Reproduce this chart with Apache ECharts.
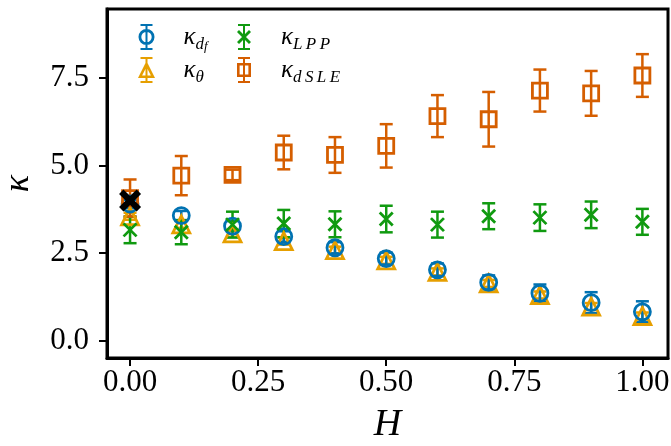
<!DOCTYPE html>
<html>
<head>
<meta charset="utf-8">
<script src="https://cdn.jsdelivr.net/npm/echarts@6/dist/echarts.min.js"></script>
<style>
    html, body { margin: 0; padding: 0; background: #fff; }
    #chart { width: 671px; height: 446px; }
</style>
</head>
<body>
<div id="chart"></div>
<script>
    // H values (x) and the four kappa estimates with their error bars
    var H = [0, 0.1, 0.2, 0.3, 0.4, 0.5, 0.6, 0.7, 0.8, 0.9, 1.0];
    var kDf = [3.90, 3.57, 3.27, 2.97, 2.65, 2.34, 2.02, 1.66, 1.35, 1.08, 0.82];
    var kDfErr = [0.12, 0.13, 0.14, 0.15, 0.16, 0.17, 0.18, 0.20, 0.25, 0.30, 0.30];
    var kTheta = [3.55, 3.32, 3.06, 2.84, 2.58, 2.29, 1.96, 1.63, 1.30, 0.97, 0.70];
    var kThetaErr = [0.10, 0.10, 0.10, 0.10, 0.10, 0.10, 0.10, 0.10, 0.10, 0.10, 0.10];
    var kLpp = [3.16, 3.09, 3.31, 3.34, 3.32, 3.47, 3.31, 3.55, 3.51, 3.59, 3.39];
    var kLppErr = [0.38, 0.34, 0.37, 0.39, 0.37, 0.38, 0.37, 0.37, 0.38, 0.38, 0.37];
    var kDsle = [4.07, 4.71, 4.73, 5.37, 5.30, 5.56, 6.41, 6.32, 7.14, 7.06, 7.57];
    var kDsleErr = [0.53, 0.56, 0.15, 0.48, 0.51, 0.62, 0.60, 0.78, 0.60, 0.64, 0.61];
    var crossPoint = [[0, 4.0]];

    var xTicks = [0, 0.25, 0.5, 0.75, 1.0];
    var yTicks = [0, 2.5, 5.0, 7.5];

    var BLUE = '#0072b2', ORANGE = '#e69f00', GREEN = '#109a10', RED = '#d55e00';
    var SERIF = '"Liberation Serif", "DejaVu Serif", serif';

    function points(vals) {
        return H.map(function (h, i) { return [h, vals[i]]; });
    }
    function bars(vals, errs) {
        return H.map(function (h, i) { return [h, vals[i], vals[i] - errs[i], vals[i] + errs[i]]; });
    }

    // vertical error bar with caps
    function errorItem(color) {
        return function (params, api) {
            var x = api.value(0);
            var lo = api.coord([x, api.value(2)]);
            var hi = api.coord([x, api.value(3)]);
            var cap = 6.5;
            var st = { stroke: color, lineWidth: 2.5, fill: null };
            return {
                type: 'group',
                children: [
                    { type: 'line', shape: { x1: lo[0], y1: lo[1], x2: hi[0], y2: hi[1] }, style: st },
                    { type: 'line', shape: { x1: lo[0] - cap, y1: lo[1], x2: lo[0] + cap, y2: lo[1] }, style: st },
                    { type: 'line', shape: { x1: hi[0] - cap, y1: hi[1], x2: hi[0] + cap, y2: hi[1] }, style: st }
                ]
            };
        };
    }

    function errSeries(name, vals, errs, color) {
        return {
            name: name + '_err',
            type: 'custom',
            renderItem: errorItem(color),
            encode: { x: 0, y: [2, 3] },
            data: bars(vals, errs),
            silent: true
        };
    }

    function markSeries(name, vals, symbol, size, color) {
        return {
            name: name,
            type: 'scatter',
            symbol: symbol,
            symbolSize: size,
            itemStyle: { color: 'rgba(0,0,0,0)', borderColor: color, borderWidth: 2.8, opacity: 1 },
            data: points(vals)
        };
    }

    // legend icons: marker + error bar, filled outlines
    var barPath = 'M9,1 L11,1 L11,25 L9,25 Z M4,0 L16,0 L16,2 L4,2 Z M4,24 L16,24 L16,26 L4,26 Z ';
    var iconCircle = 'path://' + barPath + 'M18,13 A8,8 0 1,1 2,13 A8,8 0 1,1 18,13 Z M15.2,13 A5.2,5.2 0 1,0 4.8,13 A5.2,5.2 0 1,0 15.2,13 Z';
    var iconTri = 'path://' + barPath + 'M10,4 L18.5,21 L1.5,21 Z M10,10 L5.6,18.6 L14.4,18.6 Z';
    var iconSquare = 'path://' + barPath + 'M3,6 L17,6 L17,20 L3,20 Z M5.6,8.6 L5.6,17.4 L14.4,17.4 L14.4,8.6 Z';
    var iconX = 'path://' + barPath + 'M3,8 L5,6 L17,18 L15,20 Z M15,6 L17,8 L5,20 L3,18 Z';

    var labels = {
        df: '{k|κ}{s|d}{t|f}',
        theta: '{k|κ}{s|θ}',
        LPP: '{k|κ}{s|L\u2009P\u2009P}',
        dSLE: '{k|κ}{s|d\u2009S\u2009L\u2009E}'
    };
    var rich = {
        k: { fontFamily: SERIF, fontStyle: 'italic', fontSize: 25, lineHeight: 32, verticalAlign: 'middle', padding: [0, 0, 0, 22], color: '#000' },
        s: { fontFamily: SERIF, fontStyle: 'italic', fontSize: 17, lineHeight: 16, verticalAlign: 'bottom', color: '#000' },
        t: { fontFamily: SERIF, fontStyle: 'italic', fontSize: 13, lineHeight: 2, verticalAlign: 'bottom', color: '#000' }
    };
    function legendBox(left, items) {
        return {
            left: left,
            top: 19,
            orient: 'vertical',
            itemWidth: 20,
            itemHeight: 26,
            itemGap: 4,
            selectedMode: false,
            data: items,
            formatter: function (name) { return labels[name]; },
            textStyle: { rich: rich }
        };
    }

    var chart = echarts.init(document.getElementById('chart'), null, { renderer: 'canvas' });

    var option = {
        animation: false,
        backgroundColor: '#fff',
        grid: {
            left: 107, right: 3, top: 9, bottom: 88,
            outerBoundsMode: 'none',
            show: true, borderColor: '#000', borderWidth: 3, backgroundColor: 'transparent'
        },
        legend: [
            legendBox(133, [
                { name: 'df', icon: iconCircle, itemStyle: { color: BLUE, borderWidth: 0 } },
                { name: 'theta', icon: iconTri, itemStyle: { color: ORANGE, borderWidth: 0 } }
            ]),
            legendBox(232, [
                { name: 'LPP', icon: iconX, itemStyle: { color: GREEN, borderWidth: 0 } },
                { name: 'dSLE', icon: iconSquare, itemStyle: { color: RED, borderWidth: 0 } }
            ])
        ],
        xAxis: {
            type: 'value',
            min: -0.045,
            max: 1.05,
            name: 'H',
            nameLocation: 'middle',
            nameGap: 48,
            nameTextStyle: { fontFamily: SERIF, fontStyle: 'italic', fontSize: 38, color: '#000' },
            axisLine: { show: true, onZero: false, lineStyle: { color: '#000', width: 3 } },
            axisTick: { show: true, customValues: xTicks, length: 8, lineStyle: { color: '#000', width: 2 } },
            axisLabel: {
                customValues: xTicks, margin: 9, color: '#000', fontFamily: SERIF, fontSize: 31,
                formatter: function (v) { return v.toFixed(2); }
            },
            splitLine: { show: false }
        },
        yAxis: {
            type: 'value',
            min: -0.5,
            max: 9.47,
            name: 'κ',
            nameLocation: 'middle',
            nameRotate: 90,
            nameGap: 70,
            nameTextStyle: { fontFamily: SERIF, fontStyle: 'italic', fontSize: 36, color: '#000' },
            axisLine: { show: true, onZero: false, lineStyle: { color: '#000', width: 3 } },
            axisTick: { show: true, customValues: yTicks, length: 8, lineStyle: { color: '#000', width: 2 } },
            axisLabel: {
                customValues: yTicks, margin: 18, color: '#000', fontFamily: SERIF, fontSize: 31,
                formatter: function (v) { return v.toFixed(1); }
            },
            splitLine: { show: false }
        },
        series: [
            errSeries('theta', kTheta, kThetaErr, ORANGE),
            markSeries('theta', kTheta, 'triangle', 17, ORANGE),
            errSeries('df', kDf, kDfErr, BLUE),
            markSeries('df', kDf, 'circle', 16, BLUE),
            errSeries('LPP', kLpp, kLppErr, GREEN),
            markSeries('LPP', kLpp, 'path://M0,0 L10,10 M10,0 L0,10', 13, GREEN),
            errSeries('dSLE', kDsle, kDsleErr, RED),
            markSeries('dSLE', kDsle, 'rect', 15, RED),
            {
                name: 'cross',
                type: 'scatter',
                symbol: 'path://M0,2 L2,0 L5,3 L8,0 L10,2 L7,5 L10,8 L8,10 L5,7 L2,10 L0,8 L3,5 Z',
                symbolSize: 22,
                itemStyle: { color: '#000', opacity: 1 },
                data: crossPoint,
                z: 5
            }
        ]
    };

    chart.setOption(option);
</script>
</body>
</html>
